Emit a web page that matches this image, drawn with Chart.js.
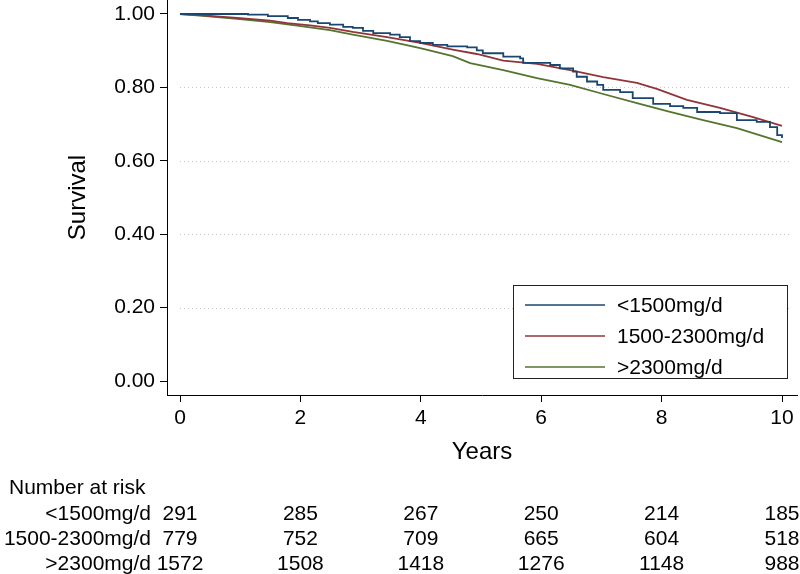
<!DOCTYPE html>
<html>
<head>
<meta charset="utf-8">
<title>Survival by dose</title>
<script src="https://cdn.jsdelivr.net/npm/chart.js@4.4.1/dist/chart.umd.min.js"></script>
<style>
  html, body { margin: 0; padding: 0; background: #fff; }
</style>
</head>
<body>
<canvas id="chart" width="800" height="574"></canvas>
<script>
// Groups
const groupLabels = ['<1500mg/d', '1500-2300mg/d', '>2300mg/d'];
const groupColors = ['#1a476f', '#90353b', '#55752f'];

// Survival curves (years, survival)
const lowYears = [0, 1.13, 1.46, 1.79, 1.96, 2.16, 2.29, 2.49, 2.71, 2.87, 3.04, 3.21, 3.49, 3.65, 3.82, 3.99, 4.20, 4.44, 4.77, 4.93, 5.03, 5.37, 5.65, 5.70, 6.15, 6.31, 6.53, 6.59, 6.76, 6.93, 7.03, 7.31, 7.52, 7.86, 8.14, 8.36, 8.59, 8.97, 9.25, 9.58, 9.80, 9.92, 10.0];
const lowSurv = [1.000, 0.998, 0.994, 0.989, 0.984, 0.980, 0.975, 0.971, 0.965, 0.962, 0.954, 0.948, 0.944, 0.937, 0.926, 0.921, 0.916, 0.912, 0.909, 0.901, 0.893, 0.884, 0.879, 0.867, 0.861, 0.852, 0.843, 0.829, 0.816, 0.807, 0.793, 0.787, 0.771, 0.755, 0.749, 0.744, 0.733, 0.730, 0.711, 0.706, 0.692, 0.670, 0.662];

const midYears = [0, 0.38, 0.95, 1.50, 1.78, 2.16, 2.49, 2.87, 3.44, 3.99, 4.53, 4.93, 5.37, 5.93, 6.48, 7.03, 7.59, 7.92, 8.42, 8.97, 9.52, 10.0];
const midSurv = [1.000, 0.996, 0.989, 0.982, 0.975, 0.969, 0.962, 0.951, 0.937, 0.921, 0.903, 0.891, 0.873, 0.864, 0.847, 0.828, 0.812, 0.796, 0.766, 0.744, 0.719, 0.695];

const highYears = [0, 0.38, 0.95, 1.50, 2.04, 2.49, 2.87, 3.44, 3.99, 4.53, 4.82, 5.37, 5.93, 6.48, 7.03, 7.59, 8.14, 8.69, 9.25, 10.0];
const highSurv = [1.000, 0.995, 0.987, 0.978, 0.966, 0.956, 0.944, 0.927, 0.907, 0.885, 0.866, 0.847, 0.825, 0.807, 0.782, 0.757, 0.733, 0.711, 0.689, 0.651];

// Axes
const xTicks = [0, 2, 4, 6, 8, 10];
const yTicks = [0, 0.2, 0.4, 0.6, 0.8, 1];
const yGridLines = [0.2, 0.4, 0.6, 0.8];

// Number at risk table
const riskTitle = 'Number at risk';
const riskLow = [291, 285, 267, 250, 214, 185];
const riskMid = [779, 752, 709, 665, 604, 518];
const riskHigh = [1572, 1508, 1418, 1276, 1148, 988];

const FONT = '"Liberation Sans", Arial, Helvetica, sans-serif';

const toPoints = (xs, ys) => xs.map((x, i) => ({ x, y: ys[i] }));

// Dotted grid, legend box, axis titles and risk table
const extrasPlugin = {
  id: 'extras',
  beforeDatasetsDraw(chart) {
    const { ctx, chartArea, scales } = chart;
    ctx.save();
    ctx.strokeStyle = '#c8c8c8';
    ctx.lineWidth = 1;
    ctx.setLineDash([1, 3]);
    yGridLines.forEach((v) => {
      const y = Math.round(scales.y.getPixelForValue(v)) + 0.5;
      ctx.beginPath();
      ctx.moveTo(scales.x.getPixelForValue(0), y);
      ctx.lineTo(chartArea.right - 6, y);
      ctx.stroke();
    });
    ctx.restore();
  },
  afterDraw(chart) {
    const { ctx, scales, chartArea } = chart;
    ctx.save();

    // Legend inside the plot
    const box = { x: 513.5, y: 285.5, w: 274, h: 93 };
    ctx.fillStyle = '#fff';
    ctx.fillRect(box.x, box.y, box.w, box.h);
    ctx.strokeStyle = '#222';
    ctx.lineWidth = 1;
    ctx.strokeRect(box.x, box.y, box.w, box.h);
    ctx.font = `21px ${FONT}`;
    ctx.textBaseline = 'middle';
    ctx.textAlign = 'left';
    groupLabels.forEach((label, i) => {
      const y = 305 + i * 31;
      ctx.strokeStyle = groupColors[i];
      ctx.lineWidth = 1.5;
      ctx.beginPath();
      ctx.moveTo(525, y);
      ctx.lineTo(605, y);
      ctx.stroke();
      ctx.fillStyle = '#000';
      ctx.fillText(label, 617, y + 1);
    });

    // Axis titles
    ctx.fillStyle = '#000';
    ctx.font = `24px ${FONT}`;
    ctx.textAlign = 'center';
    ctx.fillText('Years', (chartArea.left + chartArea.right) / 2, 452);
    ctx.save();
    ctx.translate(78, (chartArea.top + chartArea.bottom) / 2);
    ctx.rotate(-Math.PI / 2);
    ctx.fillText('Survival', 0, 0);
    ctx.restore();

    // Number at risk
    ctx.font = `21px ${FONT}`;
    ctx.textAlign = 'left';
    ctx.fillText(riskTitle, 9, 488);
    [riskLow, riskMid, riskHigh].forEach((row, r) => {
      const y = 514 + r * 25;
      ctx.textAlign = 'right';
      ctx.fillText(groupLabels[r], 151, y);
      ctx.textAlign = 'center';
      row.forEach((n, i) => {
        ctx.fillText(String(n), scales.x.getPixelForValue(xTicks[i]), y);
      });
    });
    ctx.restore();
  },
};

const datasets = [
  { label: groupLabels[0], data: toPoints(lowYears, lowSurv), stepped: true },
  { label: groupLabels[1], data: toPoints(midYears, midSurv) },
  { label: groupLabels[2], data: toPoints(highYears, highSurv) },
].map((d, i) => ({
  ...d,
  borderColor: groupColors[i],
  borderWidth: 1.8,
  pointRadius: 0,
  fill: false,
  tension: 0,
}));

// eslint-disable-next-line no-undef
new Chart(document.getElementById('chart'), {
  type: 'line',
  data: { datasets },
  plugins: [extrasPlugin],
  options: {
    responsive: false,
    devicePixelRatio: 1,
    animation: false,
    layout: { padding: { top: 0, right: 3, bottom: 0, left: 0 } },
    plugins: { legend: { display: false }, tooltip: { enabled: false } },
    scales: {
      x: {
        type: 'linear',
        min: -0.216,
        max: 10.249,
        afterBuildTicks: (s) => { s.ticks = xTicks.map((value) => ({ value })); },
        afterFit: (s) => {
          s.height = 179;
          s.paddingLeft = 0;
          s.paddingRight = 0;
        },
        ticks: {
          color: '#000',
          font: { family: FONT, size: 21 },
          padding: 4,
          maxRotation: 0,
          autoSkip: false,
        },
        grid: { drawOnChartArea: false, drawTicks: true, tickLength: 7, tickColor: '#000', tickWidth: 1 },
        border: { display: true, color: '#000', width: 1 },
      },
      y: {
        min: -0.0381,
        max: 1.0381,
        afterBuildTicks: (s) => { s.ticks = yTicks.map((value) => ({ value })); },
        afterFit: (s) => {
          s.width = 167;
          s.paddingTop = 0;
          s.paddingBottom = 0;
        },
        ticks: {
          color: '#000',
          font: { family: FONT, size: 21 },
          padding: 5,
          autoSkip: false,
          callback: (v) => Number(v).toFixed(2),
        },
        grid: { drawOnChartArea: false, drawTicks: true, tickLength: 7, tickColor: '#000', tickWidth: 1 },
        border: { display: true, color: '#000', width: 1 },
      },
    },
  },
});
</script>
</body>
</html>
